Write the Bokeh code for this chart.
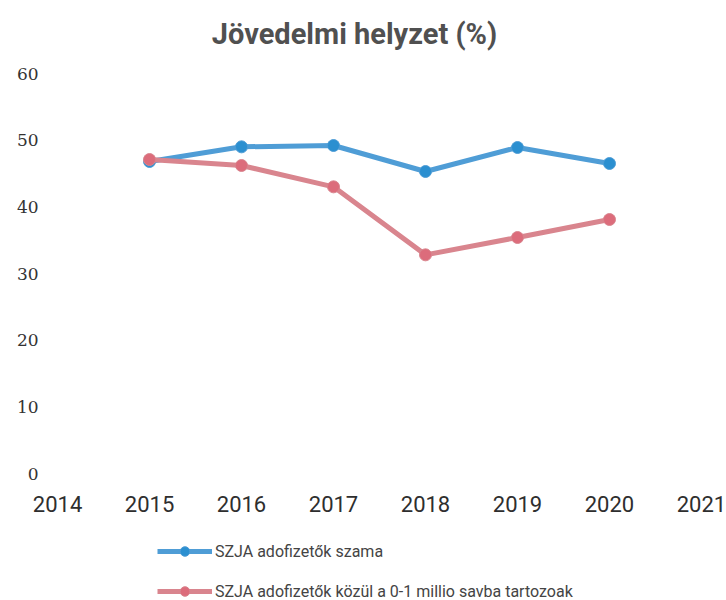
from bokeh.plotting import figure
from bokeh.models import ColumnDataSource, Legend, LegendItem, Range1d, FixedTicker, Label
from bokeh.embed import file_html
from bokeh.resources import INLINE

years = [2015, 2016, 2017, 2018, 2019, 2020]
szja_szama = [46.8, 49.0, 49.2, 45.3, 48.9, 46.5]
szja_0_1 = [47.1, 46.2, 43.0, 32.8, 35.4, 38.1]
x_ticks = [2014, 2015, 2016, 2017, 2018, 2019, 2020, 2021]
y_ticks = [0, 10, 20, 30, 40, 50, 60]
title_text = "Jövedelmi helyzet (%)"
label_blue = "SZJA adofizetők szama"
label_red = "SZJA adofizetők közül a 0-1 millio savba tartozoak"

p = figure(width=726, height=600, output_backend="svg", toolbar_location=None,
           x_range=Range1d(2013.38, 2021.272), y_range=Range1d(-19.05, 70.95),
           min_border_left=0, min_border_right=0, min_border_top=0, min_border_bottom=0)

p.xgrid.visible = False
p.ygrid.visible = False
p.outline_line_color = None

for ax in (p.xaxis[0], p.yaxis[0]):
    ax.axis_line_color = None
    ax.major_tick_line_color = None
    ax.minor_tick_line_color = None
    ax.major_tick_out = 0
    ax.major_tick_in = 0
    ax.minor_tick_out = 0

p.xaxis.fixed_location = 0
p.yaxis.fixed_location = 2014
p.xaxis.ticker = FixedTicker(ticks=x_ticks)
p.yaxis.ticker = FixedTicker(ticks=y_ticks)
p.xaxis.major_label_text_font = "Roboto"
p.xaxis.major_label_text_font_size = "22px"
p.xaxis.major_label_text_color = "#2e2e2e"
p.xaxis.major_label_standoff = 22
p.yaxis.major_label_text_font = "DejaVu Serif"
p.yaxis.major_label_text_font_size = "17px"
p.yaxis.major_label_text_color = "#333333"
p.yaxis.major_label_standoff = 19

title = Label(x=354, y=567, x_units="screen", y_units="screen", text=title_text,
              text_align="center", text_baseline="middle", text_font="Roboto",
              text_font_size="29px", text_font_style="bold", text_color="#505050")
p.add_layout(title)

src = ColumnDataSource(dict(x=years, a=szja_szama, b=szja_0_1))

lb = p.line("x", "a", source=src, line_color="#4f9dd6", line_width=5)
mb = p.scatter("x", "a", source=src, size=12, fill_color="#2b8fd0", line_color="#4f9dd6", line_width=1)
lr = p.line("x", "b", source=src, line_color="#d9858e", line_width=5)
mr = p.scatter("x", "b", source=src, size=12, fill_color="#dc6c7b", line_color="#d9858e", line_width=1)

legend = Legend(items=[LegendItem(label=label_blue, renderers=[lb, mb]),
                       LegendItem(label=label_red, renderers=[lr, mr])],
                location=(157, -3), orientation="vertical",
                glyph_width=55, glyph_height=24, spacing=16, label_standoff=3,
                padding=0, margin=0, border_line_color=None, background_fill_alpha=0,
                label_text_font="Roboto", label_text_font_size="16px",
                label_text_color="#444444")
p.add_layout(legend, "center")

open("out.html", "w").write(file_html(p, INLINE))
